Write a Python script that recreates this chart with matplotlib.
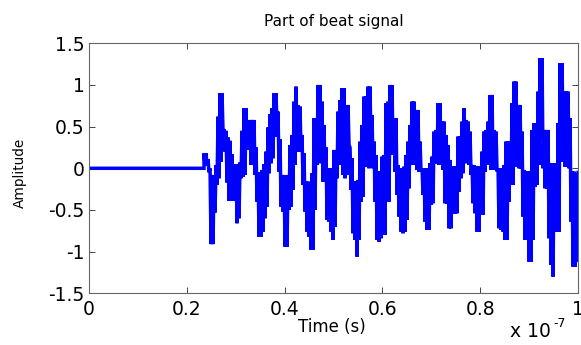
import numpy as np
import matplotlib
matplotlib.use("Agg")
import matplotlib.pyplot as plt

plt.rcParams['font.family'] = ['DejaVu Sans']

# Sampling of the read-off band (ns)
t_start_ns = 23.52
dt_ns = 0.409

# Upper and lower edge of the signal band, read column by column
band_top = [
    0.18, 0.18, 0.11, 0.0, -0.08, -0.12, 0.04, 0.62, 0.9, 0.9, 0.47, 0.45, 0.37, 0.33, 0.17,
    0.05, 0.05, 0.05, 0.07, 0.45, 0.72, 0.72, 0.52, 0.58, 0.58, 0.58, 0.25, -0.05, -0.05,
    -0.02, 0.05, 0.2, 0.49, 0.65, 0.72, 0.9, 0.9, 0.68, 0.35, -0.08, -0.08, -0.1, -0.08, 0.28,
    0.4, 0.8, 0.98, 0.76, 0.74, 0.4, 0.18, -0.16, -0.16, -0.24, -0.06, 0.6, 0.6, 1.0, 1.0, 0.8,
    0.52, 0.25, 0.0, 0.0, -0.02, 0.22, 0.22, 0.68, 0.82, 0.96, 0.96, 0.76, 0.76, 0.25, 0.12,
    -0.16, -0.16, -0.14, 0.32, 0.52, 0.86, 0.86, 0.98, 0.98, 0.64, 0.32, 0.16, -0.04, -0.04,
    0.14, 0.16,
    0.78, 0.8, 1.0, 1.0, 0.6, 0.6, 0.04, 0.0, 0.0, 0.02, 0.16, 0.32, 0.52, 0.8, 0.8, 0.7, 0.7,
    0.32, 0.0, 0.0, 0.0, 0.0, 0.06, 0.14, 0.44, 0.46, 0.78, 0.78, 0.56, 0.56, 0.4,
    0.28, 0.1, 0.02, 0.02, 0.02, 0.38, 0.38, 0.56, 0.72, 0.58, 0.56, 0.44, 0.04, 0.04, 0.02,
    0.02, 0.02, 0.2, 0.44, 0.46, 0.56, 0.88, 0.88, 0.46, 0.44, 0.0, 0.0, -0.04, 0.04, 0.32, 0.32,
    0.32, 0.78, 1.04, 1.04, 0.76, 0.76, 0.44, -0.02, -0.04, -0.04, -0.04, 0.46, 0.54, 0.54,
    0.92, 1.32, 1.32, 0.46, 0.46, 0.46, 0.06, 0.06, 0.06, 0.06, 0.54, 1.26, 1.26, 0.92, 0.92,
    0.92, 0.6, -0.04, -0.04, -0.06,
]
band_bottom = [
    0.03, 0.03, -0.05, -0.91, -0.91, -0.53, -0.2, -0.12, 0.08, 0.44, 0.2, -0.17, -0.39, -0.39,
    -0.39, -0.12, -0.66, -0.6, -0.12, -0.1, -0.08, 0.24, 0.22, 0.04, 0.28, -0.08, -0.4, -0.82,
    -0.82,
    -0.76, -0.6, -0.46, -0.06, 0.06, 0.12, 0.38, 0.48, -0.04, -0.46, -0.52, -0.94, -0.94, -0.5,
    -0.46, -0.26, 0.04, 0.2, 0.2, 0.2, -0.2, -0.52, -0.76, -0.82, -0.98, -0.98, -0.5, 0.04,
    0.08, 0.06, -0.16,
    -0.16, -0.62, -0.64, -0.76, -0.86, -0.7, -0.12, 0.04, 0.06, -0.08, -0.12, -0.08, 0.28,
    -0.26, -0.78, -0.86, -1.06, -0.86, -0.4, -0.34, 0.02, 0.04, 0.0, 0.22, 0.0, -0.4, -0.86,
    -0.88, -0.84, -0.4, -0.8,
    -0.4, -0.4, 0.16, 0.18, -0.04, -0.32, -0.58, -0.76, -0.78, -0.76, -0.62, -0.24, 0.08, 0.04,
    0.16, -0.02, -0.04, -0.04, -0.32, -0.64, -0.74, -0.74, -0.44, -0.42, 0.06, 0.06, 0.04,
    0.04, -0.02, -0.42, -0.42,
    -0.72, -0.72, -0.54, -0.54, -0.54, -0.28, -0.12, -0.06, 0.06, 0.1, 0.04, -0.08, -0.42,
    -0.54, -0.76, -0.76, -0.56, -0.56, -0.04, 0.04, 0.04, -0.02, -0.02, -0.02, -0.04, -0.72,
    -0.74, -0.76, -0.86, -0.86, -0.4,
    -0.2, -0.2, 0.24, 0.02, 0.0, 0.0, -0.58, -0.86, -0.66, -1.12, -1.12, -0.86, -0.22, -0.2,
    0.04, 0.36, 0.0, -0.24, -0.24, -0.84, -1.16, -1.3, -0.76, -0.76, -0.76, 0.08, 0.42, 0.02,
    0.02, 0.0, -0.64, -1.18, -1.18, -1.12,
]

# Leading flat part and closing point
lead_t_ns = [0.0, t_start_ns]
lead_val = [0.0, 0.0]
end_t_ns = [100.0]
end_val = [-0.05]

xtick_vals = [0, 0.2e-7, 0.4e-7, 0.6e-7, 0.8e-7, 1e-7]
xtick_labels = ['0', '0.2', '0.4', '0.6', '0.8', '1']
ytick_vals = [-1.5, -1, -0.5, 0, 0.5, 1, 1.5]
ytick_labels = ['-1.5', '-1', '-0.5', '0', '0.5', '1', '1.5']

# interleave top/bottom edges into one trace
n = len(band_top)
t_cols = t_start_ns + dt_ns * np.arange(n)
t_band = np.empty(2 * n)
v_band = np.empty(2 * n)
t_band[0::2] = t_cols
t_band[1::2] = t_cols + dt_ns / 2
v_band[0::2] = band_top
v_band[1::2] = band_bottom

t_all = np.concatenate([lead_t_ns, t_band, end_t_ns]) * 1e-9
v_all = np.concatenate([lead_val, v_band, end_val])

fig = plt.figure(figsize=(5.81, 3.45), dpi=100)
ax = fig.add_axes([0.1532, 0.1499, 0.8417, 0.7246])
ax.plot(t_all, v_all, color=(0, 0, 1), linewidth=2.5, solid_joinstyle='miter')
ax.set_xlim(0, 1e-7)
ax.set_ylim(-1.5, 1.5)
ax.set_xticks(xtick_vals)
ax.set_xticklabels(xtick_labels)
ax.set_yticks(ytick_vals)
ax.set_yticklabels(ytick_labels)
ax.tick_params(direction='in', length=4, width=0.7, colors='#444444', labelcolor='black',
               labelsize=13.5, top=True, right=True)
ax.tick_params(axis='x', pad=4.5)
ax.tick_params(axis='y', pad=3)
for s in ax.spines.values():
    s.set_color('#666666')
    s.set_linewidth(0.8)
ax.set_title('Part of beat signal', fontsize=11, pad=12.5)
ax.set_xlabel('Time (s)', fontsize=12, va='top')
ax.xaxis.set_label_coords(0.497, -0.097)
ax.set_ylabel('Amplitude', fontsize=9.8)
ax.yaxis.set_label_coords(-0.128, 0.48)
fig.text(0.878, 0.023, 'x 10', fontsize=13.5, ha='left', va='baseline')
fig.text(0.952, 0.052, '-7', fontsize=9, ha='left', va='baseline')

fig.savefig('out.png', dpi=100)
